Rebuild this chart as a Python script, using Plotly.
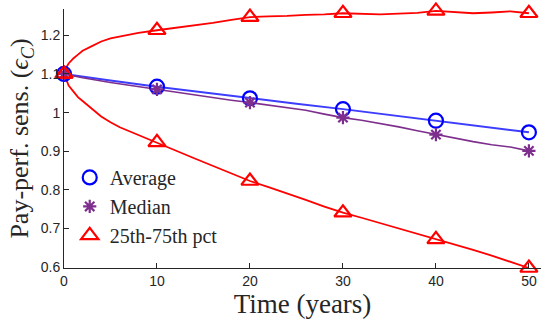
import plotly.graph_objects as go

# ---- data ----
years_upper = [0, 0.25, 0.5, 1, 1.5, 2, 3, 4, 5, 6, 8, 10, 12, 14, 16, 18, 20, 22, 24, 26, 28,
               30, 32, 34, 36, 38, 40, 42, 44, 46, 48, 50]
pct75 = [1.100, 1.117, 1.127, 1.140, 1.150, 1.160, 1.172, 1.184, 1.192, 1.197, 1.206, 1.213,
         1.219, 1.225, 1.232, 1.240, 1.247, 1.249, 1.250, 1.253, 1.254, 1.257, 1.255, 1.254,
         1.256, 1.258, 1.263, 1.260, 1.257, 1.259, 1.262, 1.257]
pct25 = [1.100, 1.085, 1.070, 1.055, 1.040, 1.030, 1.010, 0.990, 0.975, 0.962, 0.942, 0.923,
         0.902, 0.882, 0.862, 0.842, 0.823, 0.807, 0.791, 0.774, 0.757, 0.741, 0.728, 0.714,
         0.700, 0.686, 0.672, 0.660, 0.645, 0.630, 0.614, 0.598]

years_avg = [0, 2, 5, 10, 15, 20, 25, 30, 35, 40, 45, 50]
average = [1.100, 1.093, 1.083, 1.067, 1.052, 1.037, 1.023, 1.009, 0.994, 0.979, 0.964, 0.949]

years_med = [0, 2, 5, 10, 12, 14, 16, 18, 20, 22, 24, 26, 28, 30, 32, 34, 36, 38, 40, 42, 44,
             46, 48, 50]
median = [1.100, 1.090, 1.078, 1.060, 1.052, 1.046, 1.039, 1.032, 1.026, 1.019, 1.013, 1.006,
          0.996, 0.987, 0.980, 0.972, 0.963, 0.953, 0.943, 0.935, 0.925, 0.917, 0.911, 0.901]

marker_years = [0, 10, 20, 30, 40, 50]
x_ticks = [0, 10, 20, 30, 40, 50]
y_ticks = [0.6, 0.7, 0.8, 0.9, 1.0, 1.1, 1.2]
y_ticktext = ["0.6", "0.7", "0.8", "0.9", "1", "1.1", "1.2"]

BLUE_LINE = "#3d3dff"
BLUE = "#0000ff"
PURPLE = "#7e2f8e"
RED = "#ff0000"
SERIF = "Liberation Serif"
SANS = "Liberation Sans"
TXT = "#262626"


def pick(xs, ys, sel):
    return [ys[xs.index(t)] for t in sel]


fig = go.Figure()

# lines
fig.add_trace(go.Scatter(x=years_upper, y=pct75, mode="lines", line=dict(color=RED, width=1.8),
                         showlegend=False))
fig.add_trace(go.Scatter(x=years_upper, y=pct25, mode="lines", line=dict(color=RED, width=1.8),
                         showlegend=False))
fig.add_trace(go.Scatter(x=years_avg, y=average, mode="lines", line=dict(color=BLUE_LINE, width=2),
                         showlegend=False))
fig.add_trace(go.Scatter(x=years_med, y=median, mode="lines", line=dict(color=PURPLE, width=1.6),
                         showlegend=False))

# markers
mk_avg = dict(symbol="circle-open", size=14, color=BLUE, line=dict(width=2.2, color=BLUE))
mk_med = dict(symbol="asterisk-open", size=11, color=PURPLE, line=dict(width=2.2, color=PURPLE))
mk_pct = dict(symbol="triangle-up-open", size=15, color=RED, line=dict(width=2.2, color=RED))

fig.add_trace(go.Scatter(x=marker_years, y=pick(years_avg, average, marker_years), mode="markers",
                         marker=mk_avg, showlegend=False, cliponaxis=False))
fig.add_trace(go.Scatter(x=marker_years, y=pick(years_med, median, marker_years), mode="markers",
                         marker=mk_med, showlegend=False, cliponaxis=False))
fig.add_trace(go.Scatter(x=marker_years, y=pick(years_upper, pct75, marker_years), mode="markers",
                         marker=mk_pct, showlegend=False, cliponaxis=False))
fig.add_trace(go.Scatter(x=marker_years, y=pick(years_upper, pct25, marker_years), mode="markers",
                         marker=mk_pct, showlegend=False, cliponaxis=False))

# legend entries
fig.add_trace(go.Scatter(x=[None], y=[None], mode="markers", marker=mk_avg, name="Average"))
fig.add_trace(go.Scatter(x=[None], y=[None], mode="markers", marker=mk_med, name="Median"))
fig.add_trace(go.Scatter(x=[None], y=[None], mode="markers", marker=mk_pct, name="25th-75th pct"))

fig.update_layout(
    width=545, height=327,
    margin=dict(l=64, r=4, t=9, b=59),
    paper_bgcolor="white", plot_bgcolor="white",
    showlegend=True,
    legend=dict(x=0.012, y=0.425, xanchor="left", yanchor="top",
                font=dict(family=SERIF, size=20, color=TXT),
                bgcolor="rgba(0,0,0,0)", borderwidth=0, tracegroupgap=0, itemwidth=30),
    xaxis=dict(range=[0, 51.3], tickvals=x_ticks, ticks="inside", ticklen=5, tickwidth=1,
               tickcolor=TXT, showline=True, linecolor=TXT, linewidth=1,
               showgrid=False, zeroline=False,
               tickfont=dict(family=SANS, size=14, color=TXT),
               title=dict(text="Time (years)", font=dict(family=SERIF, size=27, color=TXT),
                          standoff=2)),
    yaxis=dict(range=[0.598, 1.268], tickvals=y_ticks, ticktext=y_ticktext, ticks="inside",
               ticklen=5, tickwidth=1, tickcolor=TXT, showline=True, linecolor=TXT,
               linewidth=1, showgrid=False, zeroline=False,
               tickfont=dict(family=SANS, size=14, color=TXT),
               title=dict(text="Pay-perf. sens. (<i>ϵ</i><sub><i>C</i></sub>)",
                          font=dict(family=SERIF, size=26, color=TXT), standoff=4)),
)

fig.write_html("out.html")
